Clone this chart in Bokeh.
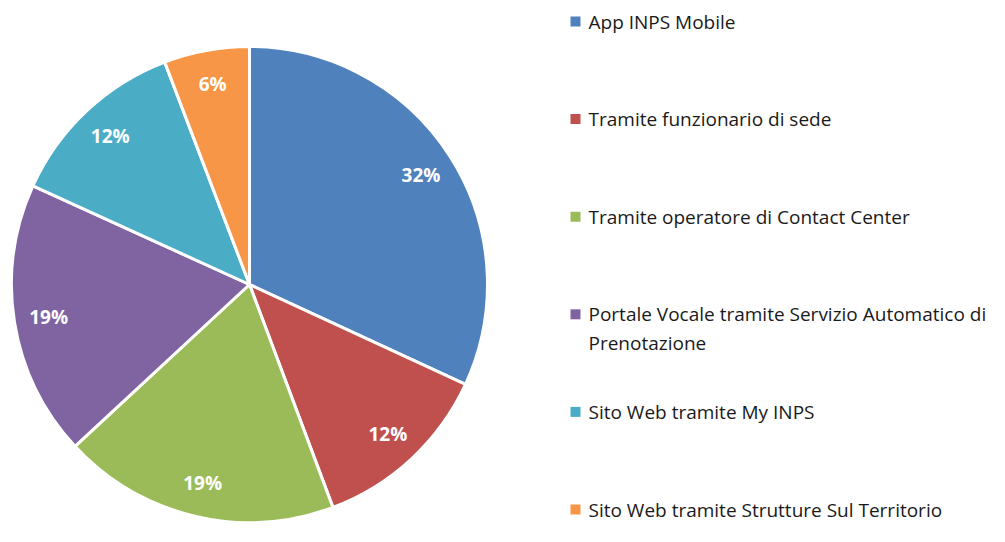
import math
from bokeh.plotting import figure
from bokeh.models import Range1d, ColumnDataSource
from bokeh.core.properties import value
from bokeh.embed import file_html
from bokeh.resources import INLINE

# ---- data ----
categories = [
    "App INPS Mobile",
    "Tramite funzionario di sede",
    "Tramite operatore di Contact Center",
    "Portale Vocale tramite Servizio Automatico di\nPrenotazione",
    "Sito Web tramite My INPS",
    "Sito Web tramite Strutture Sul Territorio",
]
shares = [31.9, 12.4, 18.8, 18.7, 12.4, 5.8]
colors = ["#4F81BD", "#C0504D", "#9BBB59", "#8064A2", "#4BACC6", "#F79646"]

W, H = 989, 526
FONT = "Open Sans"

p = figure(width=W, height=H, output_backend="svg", toolbar_location=None,
           x_range=Range1d(0, W), y_range=Range1d(0, H),
           x_axis_type=None, y_axis_type=None, min_border=0,
           background_fill_color="white", border_fill_color="white")
p.outline_line_color = None
p.grid.visible = False

# pie geometry (screen px, y measured up)
cx, cy, R = 249, H - 284, 238
total = sum(shares)
starts, ends, mids = [], [], []
cum = 0.0
for s in shares:
    a0 = math.pi / 2 - 2 * math.pi * cum / total
    cum += s
    a1 = math.pi / 2 - 2 * math.pi * cum / total
    starts.append(a1)
    ends.append(a0)
    mids.append((a0 + a1) / 2)

src = ColumnDataSource(dict(start=starts, end=ends, color=colors))
p.wedge(x=cx, y=cy, radius=R, start_angle="start", end_angle="end",
        fill_color="color", line_color="white", line_width=3, source=src)

lr = 0.855 * R
lab = ColumnDataSource(dict(
    x=[cx + lr * math.cos(m) for m in mids],
    y=[cy + lr * math.sin(m) for m in mids],
    t=[f"{round(s)}%" for s in shares]))
p.text(x="x", y="y", text="t", source=lab, text_color="white",
       text_font=value(FONT), text_font_style="bold", text_font_size="19px",
       text_align="center", text_baseline="middle")

# legend
row_top = 21
row_step = 97.6
line_gap = 29
mx, tx = 575, 588
for i, (c, col) in enumerate(zip(categories, colors)):
    yd = row_top + i * row_step
    p.scatter(x=[mx], y=[H - yd], marker="square", size=10,
              fill_color=col, line_color=None)
    for j, line in enumerate(c.split("\n")):
        p.text(x=[tx], y=[H - yd - j * line_gap], text=[line],
               text_color="#1a1a1a", text_font=value(FONT),
               text_font_size="19px", text_align="left",
               text_baseline="middle")

open("out.html", "w").write(file_html(p, INLINE))
